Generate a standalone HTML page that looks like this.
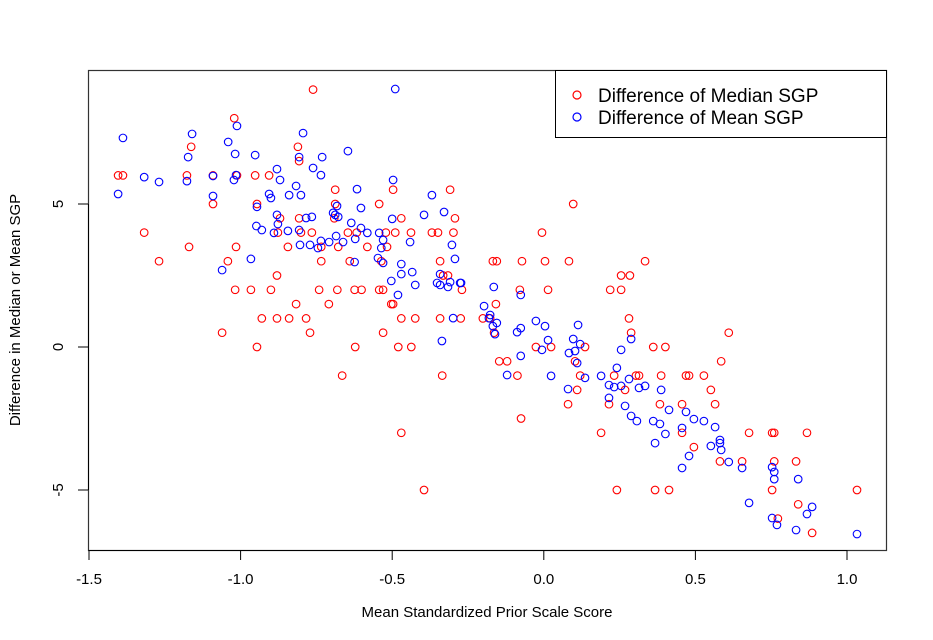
<!DOCTYPE html>
<html><head><meta charset="utf-8"><style>
body{margin:0;background:#fff;}
svg{display:block;font-family:"Liberation Sans",Arial,sans-serif;}
</style></head><body>
<svg id="chart" width="933" height="640" viewBox="0 0 933 640">
<rect x="0" y="0" width="933" height="640" fill="#fff"/>
<g id="points"></g>
<rect x="88.5" y="70.5" width="798" height="480" fill="none" stroke="#333" stroke-width="1.2"/>
<g id="axes"></g>
<text x="487" y="617" text-anchor="middle" font-size="15" fill="#000">Mean Standardized Prior Scale Score</text>
<text transform="translate(20,310) rotate(-90)" text-anchor="middle" font-size="15" fill="#000">Difference in Median or Mean SGP</text>
<g>
<rect x="555.5" y="70.5" width="331" height="67" fill="#fff" stroke="#000" stroke-width="1"/>
<circle cx="577" cy="95" r="4" fill="none" stroke="red" stroke-width="1.2"/>
<text x="598" y="102" font-size="19" fill="#000">Difference of Median SGP</text>
<circle cx="577" cy="117" r="4" fill="none" stroke="blue" stroke-width="1.2"/>
<text x="598" y="124" font-size="19" fill="#000">Difference of Mean SGP</text>
</g>
</svg>
<script>
var xTicks=[-1.5,-1.0,-0.5,0.0,0.5,1.0];
var xTickLabels=["-1.5","-1.0","-0.5","0.0","0.5","1.0"];
var yTicks=[-5,0,5];
var yTickLabels=["-5","0","5"];
var medianX=[-0.761,-1.021,-1.163,-0.811,-0.807,-1.404,-1.388,-1.177,-1.091,-1.012,-0.952,-0.906,-0.688,-0.497,-0.309,-1.091,-0.946,-0.688,-0.543,0.097,-0.870,-0.807,-0.691,-0.470,-0.293,-1.318,-0.877,-0.801,-0.765,-0.646,-0.617,-0.521,-0.490,-0.438,-0.369,-0.349,-0.298,-0.006,-1.170,-1.015,-0.844,-0.734,-0.678,-0.582,-0.517,-1.269,-1.042,-0.734,-0.640,-0.536,-0.342,-0.168,-0.155,-0.072,0.004,0.083,0.334,-0.880,-0.332,-0.316,0.255,0.284,-1.018,-0.966,-0.900,-0.741,-0.681,-0.624,-0.601,-0.543,-0.530,-0.270,-0.079,0.014,0.219,0.255,-0.817,-0.709,-0.503,-0.497,-0.158,-0.930,-0.880,-0.840,-0.784,-0.470,-0.424,-0.342,-0.274,-0.201,-0.177,0.281,-1.061,-0.771,-0.530,-0.164,0.288,0.610,-0.946,-0.622,-0.480,-0.437,-0.026,0.024,0.136,0.361,0.401,-0.147,-0.121,0.103,0.585,-0.665,-0.335,-0.087,0.120,0.232,0.304,0.314,0.387,0.469,0.479,0.528,0.110,0.268,0.551,0.080,0.215,0.383,0.456,0.565,-0.075,-0.470,0.189,0.456,0.677,0.753,0.760,0.868,0.495,0.581,0.654,0.760,0.832,-0.395,0.241,0.367,0.413,0.753,1.033,0.839,0.772,0.885];
var medianY=[9,8,7,7,6.5,6,6,6,6,6,6,6,5.5,5.5,5.5,5,5,5,5,5,4.5,4.5,4.5,4.5,4.5,4,4,4,4,4,4,4,4,4,4,4,4,4,3.5,3.5,3.5,3.5,3.5,3.5,3.5,3,3,3,3,3,3,3,3,3,3,3,3,2.5,2.5,2.5,2.5,2.5,2,2,2,2,2,2,2,2,2,2,2,2,2,2,1.5,1.5,1.5,1.5,1.5,1,1,1,1,1,1,1,1,1,1,1,0.5,0.5,0.5,0.5,0.5,0.5,0,0,0,0,0,0,0,0,0,-0.5,-0.5,-0.5,-0.5,-1,-1,-1,-1,-1,-1,-1,-1,-1,-1,-1,-1.5,-1.5,-1.5,-2,-2,-2,-2,-2,-2.5,-3,-3,-3,-3,-3,-3,-3,-3.5,-4,-4,-4,-4,-5,-5,-5,-5,-5,-5,-5.5,-6,-6.5];
var meanX=[-1.388,-1.160,-1.012,-0.794,-1.041,-1.173,-1.018,-0.952,-0.807,-0.731,-0.646,-0.761,-0.735,-0.880,-0.870,-1.318,-1.269,-1.177,-1.091,-1.015,-1.022,-1.404,-1.091,-0.817,-0.906,-0.900,-0.840,-0.801,-0.616,-0.946,-0.682,-0.603,-0.880,-0.877,-0.784,-0.765,-0.695,-0.688,-0.678,-0.948,-0.930,-0.890,-0.844,-0.807,-0.635,-0.603,-0.582,-0.543,-0.804,-0.771,-0.745,-0.735,-0.708,-0.685,-0.662,-0.622,-0.530,-0.536,-0.966,-1.061,-0.624,-0.547,-0.530,-0.490,-0.497,-0.369,-0.329,-0.395,-0.500,-0.441,-0.303,-0.293,-0.470,-0.470,-0.434,-0.503,-0.424,-0.481,-0.342,-0.352,-0.342,-0.316,-0.309,-0.276,-0.273,-0.165,-0.076,-0.197,-0.299,-0.336,-0.177,-0.181,-0.168,-0.155,-0.161,-0.026,0.004,-0.088,-0.076,0.014,0.113,0.097,0.120,-0.076,-0.121,-0.006,0.083,0.103,0.110,0.288,0.255,0.241,0.024,0.136,0.189,0.281,0.080,0.215,0.232,0.255,0.314,0.334,0.387,0.215,0.268,0.413,0.288,0.307,0.361,0.383,0.469,0.495,0.528,0.456,0.565,0.401,0.367,0.581,0.581,0.585,0.551,0.479,0.456,0.610,0.654,0.753,0.760,0.760,0.839,0.677,0.753,0.769,0.885,0.868,0.832,1.033];
var meanY=[7.31,7.45,7.73,7.48,7.17,6.64,6.75,6.71,6.64,6.64,6.85,6.26,6.01,6.22,5.84,5.94,5.77,5.80,5.98,6.01,5.84,5.35,5.28,5.63,5.35,5.21,5.31,5.31,5.52,4.90,4.93,4.86,4.62,4.30,4.51,4.55,4.69,4.62,4.55,4.23,4.09,3.99,4.06,4.09,4.34,4.16,3.99,3.99,3.57,3.57,3.46,3.71,3.67,3.88,3.67,3.78,3.74,3.46,3.08,2.69,2.97,3.11,2.94,9.02,5.84,5.31,4.72,4.62,4.48,3.67,3.57,3.08,2.90,2.55,2.62,2.31,2.17,1.82,2.55,2.24,2.17,2.10,2.27,2.24,2.24,2.10,1.82,1.43,1.01,0.21,1.12,1.01,0.73,0.84,0.45,0.91,0.73,0.52,0.66,0.24,0.77,0.28,0.10,-0.31,-0.98,-0.10,-0.21,-0.14,-0.56,0.28,-0.10,-0.73,-1.01,-1.08,-1.01,-1.12,-1.47,-1.33,-1.40,-1.36,-1.43,-1.36,-1.50,-1.78,-2.06,-2.20,-2.41,-2.59,-2.59,-2.69,-2.27,-2.52,-2.59,-2.83,-2.80,-3.04,-3.36,-3.25,-3.36,-3.60,-3.46,-3.81,-4.23,-4.02,-4.23,-4.20,-4.37,-4.62,-4.62,-5.45,-5.98,-6.22,-5.59,-5.84,-6.40,-6.54];

var NS='http://www.w3.org/2000/svg';
function sx(v){return 543.8+v*303.2;}
function sy(v){return 347-v*28.6;}
var pts=document.getElementById('points');
function draw(xs,ys,col,nm){
  for(var i=0;i<xs.length;i++){
    var c=document.createElementNS(NS,'circle');
    c.setAttribute('cx',sx(xs[i]));c.setAttribute('cy',sy(ys[i]));
    c.setAttribute('r',3.8);c.setAttribute('fill','none');
    c.setAttribute('stroke',col);c.setAttribute('stroke-width','1.1');
    
    
    pts.appendChild(c);
  }
}
draw(medianX,medianY,'red','median-point');
draw(meanX,meanY,'blue','mean-point');
var ax=document.getElementById('axes');
var xl=document.createElementNS(NS,'line');
xl.setAttribute('x1',sx(xTicks[0]));xl.setAttribute('x2',sx(xTicks[xTicks.length-1]));
xl.setAttribute('y1',550.5);xl.setAttribute('y2',550.5);xl.setAttribute('stroke','#000');


ax.appendChild(xl);
for(var i=0;i<xTicks.length;i++){
  var t=document.createElementNS(NS,'line');
  t.setAttribute('x1',sx(xTicks[i]));t.setAttribute('x2',sx(xTicks[i]));
  t.setAttribute('y1',550);t.setAttribute('y2',560);t.setAttribute('stroke','#000');
  
  
  ax.appendChild(t);
  var l=document.createElementNS(NS,'text');
  l.setAttribute('x',sx(xTicks[i]));l.setAttribute('y',584);
  l.setAttribute('text-anchor','middle');l.setAttribute('font-size','15');
  l.textContent=xTickLabels[i];
  
  
  ax.appendChild(l);
}
var yl=document.createElementNS(NS,'line');
yl.setAttribute('x1',88.5);yl.setAttribute('x2',88.5);
yl.setAttribute('y1',sy(yTicks[0]));yl.setAttribute('y2',sy(yTicks[yTicks.length-1]));yl.setAttribute('stroke','#000');


ax.appendChild(yl);
for(var j=0;j<yTicks.length;j++){
  var t2=document.createElementNS(NS,'line');
  t2.setAttribute('x1',78);t2.setAttribute('x2',88);
  t2.setAttribute('y1',sy(yTicks[j]));t2.setAttribute('y2',sy(yTicks[j]));t2.setAttribute('stroke','#000');
  
  
  ax.appendChild(t2);
  var l2=document.createElementNS(NS,'text');
  l2.setAttribute('transform','translate(63,'+sy(yTicks[j])+') rotate(-90)');
  l2.setAttribute('text-anchor','middle');l2.setAttribute('font-size','15');
  l2.textContent=yTickLabels[j];
  
  
  ax.appendChild(l2);
}
</script>
</body></html>
